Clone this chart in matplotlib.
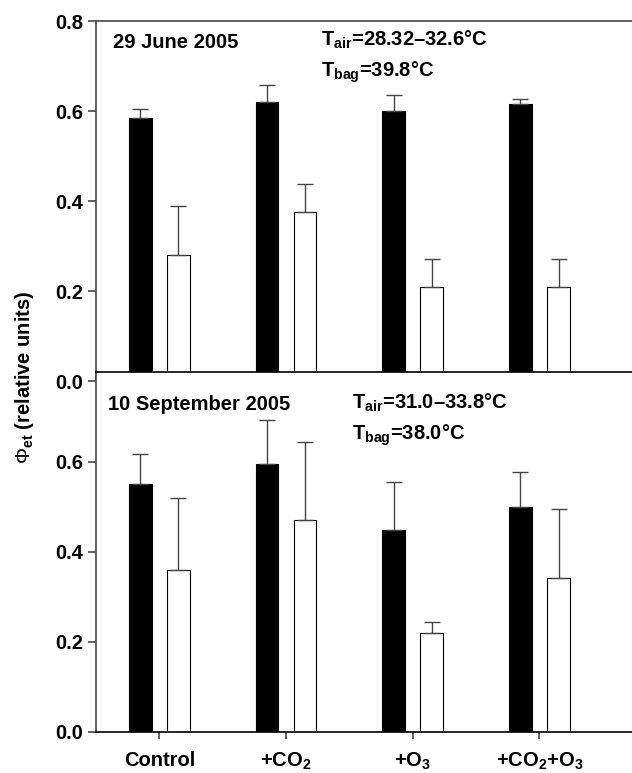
import matplotlib.pyplot as plt
import numpy as np

plt.rcParams['font.family'] = 'Liberation Sans'
plt.rcParams['mathtext.fontset'] = 'custom'
plt.rcParams['mathtext.rm'] = 'Liberation Sans:bold'
plt.rcParams['mathtext.bf'] = 'Liberation Sans:bold'
plt.rcParams['mathtext.sf'] = 'Liberation Sans'

# data
groups = ['Control', '+CO$_2$', '+O$_3$', '+CO$_2$+O$_3$']
june_black = [0.584, 0.619, 0.599, 0.616]
june_black_err = [0.020, 0.039, 0.037, 0.011]
june_white = [0.281, 0.375, 0.210, 0.210]
june_white_err = [0.108, 0.063, 0.062, 0.062]
sept_black = [0.551, 0.595, 0.449, 0.499]
sept_black_err = [0.066, 0.098, 0.107, 0.078]
sept_white = [0.359, 0.470, 0.219, 0.342]
sept_white_err = [0.160, 0.174, 0.025, 0.152]

x = np.arange(len(groups))
w = 0.18
off = 0.15
gray = '#454545'
fs = 14.5

fig = plt.figure(figsize=(6.32, 7.73), dpi=100)
ax1 = fig.add_axes([0.1519, 0.5071, 0.8481, 0.4657])
ax2 = fig.add_axes([0.1519, 0.0534, 0.8481, 0.4657])
ax2.set_zorder(5)  # lower panel sits on top of the upper one


def panel(ax, blk, blk_err, wht, wht_err):
    ax.bar(x - off, blk, w, color='black', edgecolor='black', linewidth=0.8)
    ax.bar(x + off, wht, w, color='white', edgecolor='black', linewidth=0.8)
    ax.errorbar(x - off, blk, yerr=[np.zeros(4), blk_err], fmt='none',
                ecolor=gray, elinewidth=1.0, capsize=5.5, capthick=1.0)
    ax.errorbar(x + off, wht, yerr=[np.zeros(4), wht_err], fmt='none',
                ecolor=gray, elinewidth=1.0, capsize=5.5, capthick=1.0)
    ax.set_xlim(-0.5, 3.73)
    ax.set_ylim(0, 0.8)
    ax.spines['right'].set_visible(False)
    for s in ['left', 'top', 'bottom']:
        ax.spines[s].set_color(gray)
        ax.spines[s].set_linewidth(1.2)
    ax.tick_params(axis='y', direction='out', length=6, width=1.2, color=gray, pad=3)


panel(ax1, june_black, june_black_err, june_white, june_white_err)
ax1.spines['bottom'].set_visible(False)
ax1.set_yticks([0, 0.2, 0.4, 0.6, 0.8])
ax1.set_yticklabels(['0.0', '0.2', '0.4', '0.6', '0.8'], fontweight='bold', fontsize=fs)
ax1.set_xticks([])

panel(ax2, sept_black, sept_black_err, sept_white, sept_white_err)
ax2.spines['top'].set_color('black')
ax2.spines['bottom'].set_color('black')
ax2.set_yticks([0, 0.2, 0.4, 0.6])
ax2.set_yticklabels(['0.0', '0.2', '0.4', '0.6'], fontweight='bold', fontsize=fs)
ax2.set_xticks(x)
ax2.set_xticklabels(groups, fontweight='bold', fontsize=fs)
ax2.tick_params(axis='x', direction='out', length=5, width=1.2, color=gray, pad=9)

# annotations, positions in figure pixels from the top
W, H = 632, 773
notes = [('29 June 2005', 113, 43),
         (r'T$_{\mathrm{air}}$=28.32–32.6°C', 321, 40),
         (r'T$_{\mathrm{bag}}$=39.8°C', 321, 72),
         ('10 September 2005', 108, 405),
         (r'T$_{\mathrm{air}}$=31.0–33.8°C', 352, 403),
         (r'T$_{\mathrm{bag}}$=38.0°C', 352, 435)]
for t, px, py in notes:
    fig.text(px / W, 1 - py / H, t, fontsize=fs, fontweight='bold', va='center', zorder=10)

fig.text(25 / W, 1 - 377 / H, r'$\mathsf{\Phi}_{\mathrm{et}}$ (relative units)', rotation=90,
         fontsize=fs, fontweight='bold', ha='center', va='center')

fig.savefig('out.png', dpi=100)
